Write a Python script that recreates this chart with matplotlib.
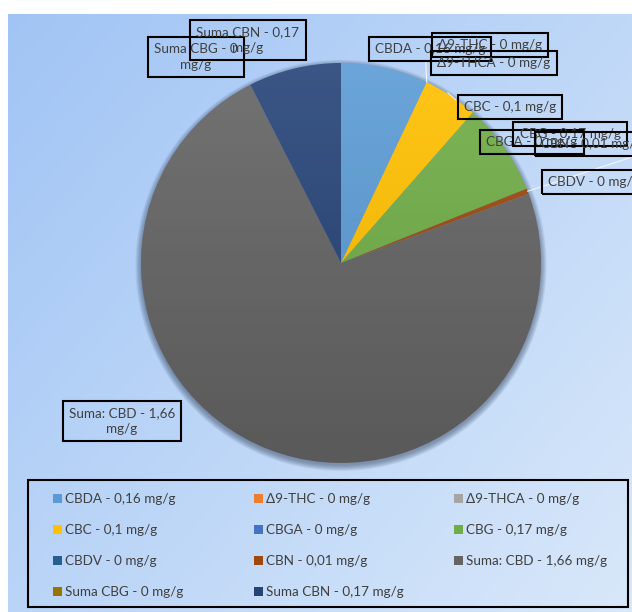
import numpy as np
import matplotlib
matplotlib.use('Agg')
import matplotlib.pyplot as plt
from matplotlib.patches import Patch, Rectangle, Circle

names = ['CBDA', 'Δ9-THC', 'Δ9-THCA', 'CBC', 'CBGA', 'CBG', 'CBDV', 'CBN',
         'Suma: CBD', 'Suma CBG', 'Suma CBN']
values = [0.16, 0, 0, 0.1, 0, 0.17, 0, 0.01, 1.66, 0, 0.17]
value_text = ['0,16', '0', '0', '0,1', '0', '0,17', '0', '0,01', '1,66', '0', '0,17']
colors = ['#5B9BD5', '#ED7D31', '#A5A5A5', '#FFC000', '#4472C4', '#70AD47',
          '#255E91', '#9E480E', '#646464', '#997300', '#264478']

labels = ['%s - %s mg/g' % (n, v) for n, v in zip(names, value_text)]

# label box centres in pixels (x, y from top), text as shown on chart
label_pos = {
    'CBDA': (430, 49, 'CBDA - 0,16 mg/g'),
    'Δ9-THC': (490, 45, 'Δ9-THC - 0 mg/g'),
    'Δ9-THCA': (494, 63, 'Δ9-THCA - 0 mg/g'),
    'CBC': (510, 107, 'CBC - 0,1 mg/g'),
    'CBGA': (532, 142, 'CBGA - 0 mg/g'),
    'CBG': (570, 134, 'CBG - 0,17 mg/g'),
    'CBN': (592, 144, 'CBN - 0,01 mg/g'),
    'CBDV': (594, 182, 'CBDV - 0 mg/g'),
    'Suma: CBD': (122, 421, 'Suma: CBD - 1,66\nmg/g'),
    'Suma CBG': (196, 57, 'Suma CBG - 0\nmg/g'),
    'Suma CBN': (248, 40, 'Suma CBN - 0,17\nmg/g'),
}

plt.rcParams['font.family'] = ['Lato', 'DejaVu Sans']

W, H = 632, 612
fig = plt.figure(figsize=(W / 100, H / 100), dpi=100)

# gradient background
bg = fig.add_axes([8 / W, 0, 1 - 8 / W, (H - 14) / H])
gx, gy = np.meshgrid(np.linspace(0, 1, 200), np.linspace(0, 1, 200))
t = (gx * 0.55 + gy * 0.45)
c0 = np.array([0.63, 0.77, 0.96])
c1 = np.array([0.85, 0.91, 0.98])
img = c0[None, None, :] * (1 - t[..., None]) + c1[None, None, :] * t[..., None]
bg.imshow(img, aspect='auto', extent=[0, 1, 1, 0])
bg.axis('off')

# pie
cx, cy, r = 341, 263, 200
ax = fig.add_axes([(cx - r) / W, (H - cy - r) / H, 2 * r / W, 2 * r / H])
# soft shadow under the pie
for k in range(8):
    ax.add_patch(Circle((0, -0.012), 1 + 0.004 * k, fc='#2a3a55', ec='none',
                        alpha=0.07, zorder=0, clip_on=False))
ax.pie(values, colors=colors, startangle=90, counterclock=False, radius=1,
       wedgeprops=dict(linewidth=0))
# light top-to-bottom shading on the slices
shade = np.zeros((100, 2, 4))
shade[:, :, 3] = np.linspace(0.10, 0.0, 100)[:, None]
shade[:, :, :3] = 1
dark = np.zeros((100, 2, 4))
dark[:, :, 3] = np.linspace(0.0, 0.10, 100)[:, None]
clip = Circle((0, 0), 1, transform=ax.transData)
for im_ in (shade, dark):
    im = ax.imshow(im_, extent=[-1, 1, -1, 1], origin='upper', aspect='auto', zorder=3)
    im.set_clip_path(clip)
ax.set_xlim(-1, 1)
ax.set_ylim(-1, 1)
ax.axis('off')

# overlay in pixel coordinates for label boxes
ov = fig.add_axes([0, 0, 1, 1])
ov.set_xlim(0, W)
ov.set_ylim(H, 0)
ov.axis('off')

# leader lines from wedge edges
total = sum(values)
cum = np.cumsum([0] + values[:-1])
for i, n in enumerate(names):
    if n in ('Δ9-THC', 'CBC', 'CBN'):
        ang = np.deg2rad(90 - 360 * (cum[i] + values[i] / 2) / total)
        px = cx + r * np.cos(ang)
        py = cy - r * np.sin(ang)
        if n == 'Δ9-THC':
            ov.plot([px, px - 1], [py, 61], color='white', lw=0.8, alpha=0.8)
        elif n == 'CBC':
            ov.plot([px - 3, 456], [py - 3, 100], color='white', lw=0.8, alpha=0.8)
        else:
            ov.plot([px, 632], [py, 157], color='white', lw=0.8, alpha=0.8)

for n in names:
    x, y, txt = label_pos[n]
    ov.text(x, y, txt, ha='center', va='center', fontsize=9.7, color='#404040',
            linespacing=1.4,
            bbox=dict(boxstyle='square,pad=0.45', fc='none', ec='black', lw=1.5))

# legend frame
ov.add_patch(Rectangle((28, 480), 600, 127, fc='none', ec='black', lw=1.5))

# legend, one column at a time (filled row by row)
col_x = [53, 254, 454]
for c in range(3):
    idx = list(range(c, len(names), 3))
    handles = [Patch(facecolor=colors[i], edgecolor='none') for i in idx]
    leg = fig.legend(handles, [labels[i] for i in idx], loc='upper left',
                     bbox_to_anchor=(col_x[c] / W, 1 - 493 / H),
                     fontsize=9.7, frameon=False,
                     handlelength=0.67, handleheight=0.67, handletextpad=0.25,
                     labelspacing=1.42, borderpad=0, borderaxespad=0)
    for t_ in leg.get_texts():
        t_.set_color('#404040')

fig.savefig('out.png', dpi=100)
